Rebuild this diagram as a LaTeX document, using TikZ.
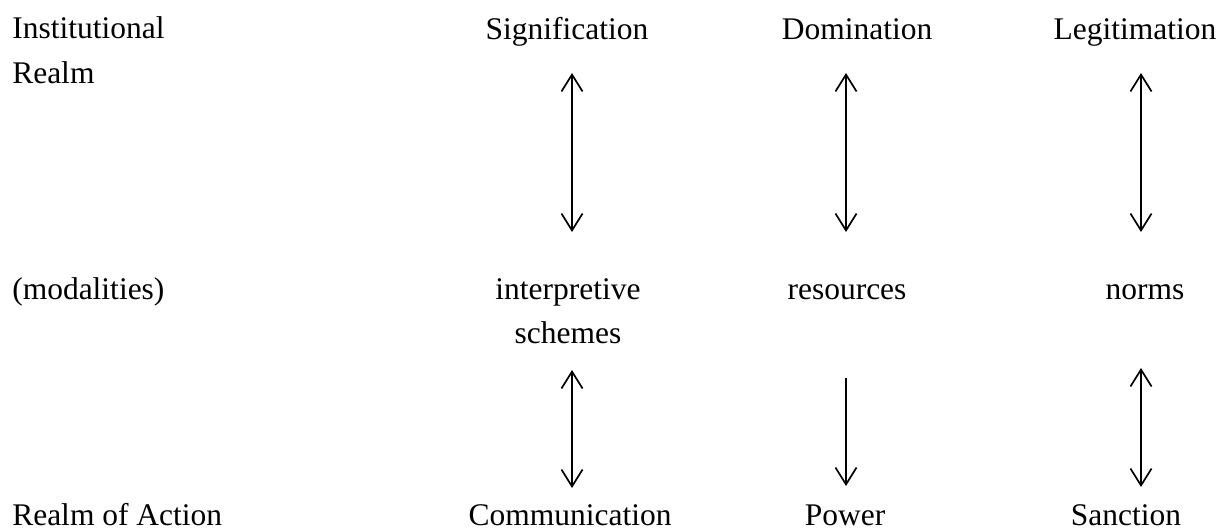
\documentclass[tikz,border=0pt]{standalone}
\usepackage{fontspec}
\setmainfont{Liberation Serif}
\usetikzlibrary{arrows.meta}

\begin{document}
\begin{tikzpicture}
[labelText/.style={anchor=base,inner sep=0pt,font=\fontsize{22.4}{31.3}\selectfont,align=center},%
  realmText/.style={labelText,anchor=base west,align=left},%
  arrowDouble/.style={{Straight Barb[length=12pt,width=15pt]}-{Straight Barb[length=12pt,width=15pt]},line width=1.2pt},%
  arrowSingle/.style={-{Straight Barb[length=12pt,width=15pt]},line width=1.2pt}]
\useasboundingbox (0,0) rectangle (30.75,-13.25);
%% columns of the arrows
\coordinate (colSig) at (14.3,0);
\coordinate (colDom) at (21.15,0);
\coordinate (colLeg) at (28.525,0);
%% left hand labels (base of a two line node is its last line)
\node (institutional) at (0.3,-2.075) [realmText] {Institutional\\Realm};
\node (modalities) at (0.3,-7.475) [realmText] {(modalities)};
\node (action) at (0.3,-13.125) [realmText] {Realm of Action};
%% institutional realm
\node (signification) at (14.175,-0.975) [labelText] {Signification};
\node (domination) at (21.425,-0.975) [labelText] {Domination};
\node (legitimation) at (28.375,-0.975) [labelText] {Legitimation};
%% modalities
\node (interpretive) at (14.2,-8.575) [labelText] {interpretive\\schemes};
\node (resources) at (21.175,-7.475) [labelText] {resources};
\node (norms) at (28.625,-7.475) [labelText] {norms};
%% realm of action
\node (communication) at (14.25,-13.125) [labelText] {Communication};
\node (power) at (21.125,-13.125) [labelText] {Power};
\node (sanction) at (28.15,-13.125) [labelText] {Sanction};
%% arrows between the rows
\draw[arrowDouble,shorten <=0.85cm,shorten >=2.775cm] (signification.base -| colSig) -- (interpretive.base -| colSig);
\draw[arrowDouble,shorten <=0.85cm,shorten >=1.675cm] (domination.base -| colDom) -- (resources.base -| colDom);
\draw[arrowDouble,shorten <=0.85cm,shorten >=1.675cm] (legitimation.base -| colLeg) -- (norms.base -| colLeg);
\draw[arrowDouble,shorten <=0.675cm,shorten >=0.925cm] (interpretive.base -| colSig) -- (communication.base -| colSig);
\draw[arrowSingle,shorten <=1.975cm,shorten >=0.975cm] (resources.base -| colDom) -- (power.base -| colDom);
\draw[arrowDouble,shorten <=1.725cm,shorten >=0.95cm] (norms.base -| colLeg) -- (sanction.base -| colLeg);
\end{tikzpicture}
\end{document}
